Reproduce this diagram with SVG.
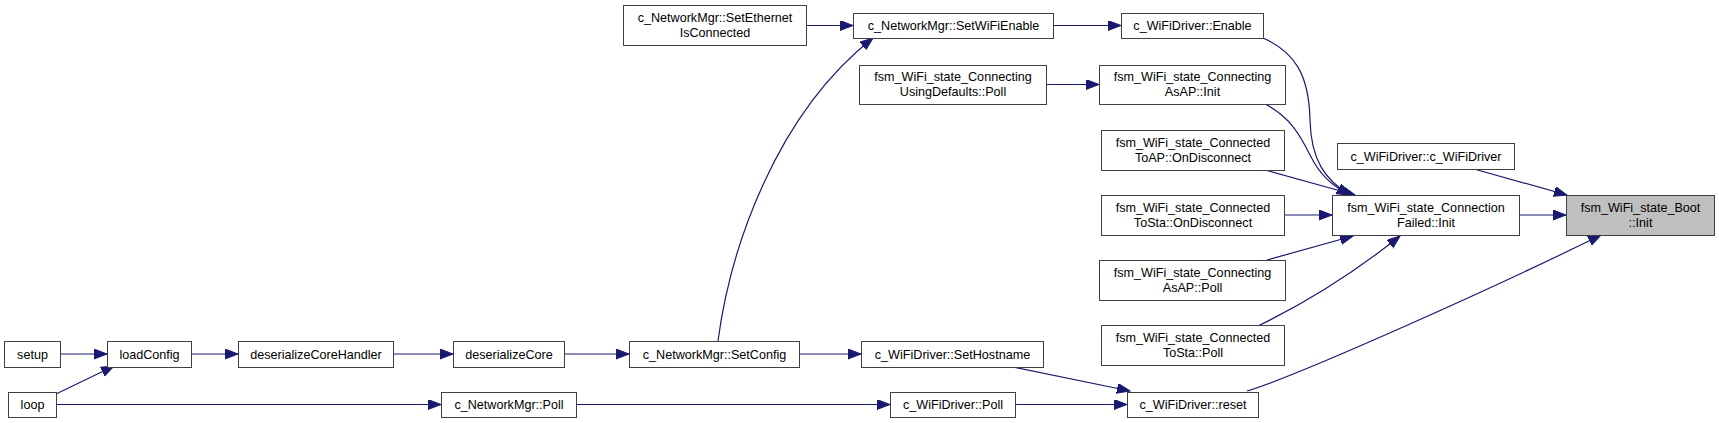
<svg xmlns="http://www.w3.org/2000/svg" width="1719" height="423" viewBox="0 0 1719 423">
<style>
.n rect{fill:#ffffff;stroke:#404040;stroke-width:1}
.n.hl rect{fill:#bfbfbf}
.n text{font-family:"Liberation Sans",Arial,Helvetica,sans-serif;font-size:12.6px;fill:#000;text-anchor:middle}
.e path{fill:none;stroke:#191970;stroke-width:1.2;marker-end:url(#ah)}
</style>
<defs>
<marker id="ah" markerUnits="userSpaceOnUse" markerWidth="14" markerHeight="11" refX="13" refY="5" orient="auto" viewBox="0 0 14 11">
<path d="M0,0 L13,5 L0,10 Z" fill="#191970" stroke="#191970" stroke-width="1"/>
</marker>
</defs>
<rect width="1719" height="423" fill="#ffffff"/>
<g id="connectors" class="e">
<path d="M60,354 L107,354"/>
<path d="M56,394 L114,366"/>
<path d="M56,404.5 L441,404.5"/>
<path d="M191,354 L238,354"/>
<path d="M393,354 L453,354"/>
<path d="M564,354 L629,354"/>
<path d="M799,354 L861,354"/>
<path d="M718,341 C730,250 775,115 873,38"/>
<path d="M806,25.5 L853,25.5"/>
<path d="M1053,25.5 L1121,25.5"/>
<path d="M1046,84.5 L1099,84.5"/>
<path d="M1013,367 L1130,391"/>
<path d="M576,404.5 L890,404.5"/>
<path d="M1015,404.5 L1127,404.5"/>
<path d="M1247,391 C1300,375 1500,285 1601,235"/>
<path d="M1474,169 L1567,195"/>
<path d="M1519,215 L1566,215"/>
<path d="M1284,215 L1332,215"/>
<path d="M1265,170 L1355,195"/>
<path d="M1267,260 L1353,236"/>
<path d="M1258,326 C1295,308 1345,280 1400,236"/>
<path d="M1263,38 C1295,52 1309,75 1310,120 C1311,160 1325,180 1350,195"/>
<path d="M1265,104 C1290,117 1300,135 1310,155 C1320,175 1332,186 1350,195"/>
</g>
<g id="setup" class="n"><rect x="4.5" y="341.5" width="56" height="26"/><text x="32.5" y="358.5">setup</text></g>
<g id="loop" class="n"><rect x="8.5" y="392.5" width="48" height="25"/><text x="32.5" y="409">loop</text></g>
<g id="loadConfig" class="n"><rect x="107.5" y="341.5" width="84" height="26"/><text x="149.5" y="358.5">loadConfig</text></g>
<g id="deserializeCoreHandler" class="n"><rect x="238.5" y="341.5" width="155" height="26"/><text x="316" y="358.5">deserializeCoreHandler</text></g>
<g id="deserializeCore" class="n"><rect x="453.5" y="341.5" width="111" height="26"/><text x="509" y="358.5">deserializeCore</text></g>
<g id="nm_poll" class="n"><rect x="441.5" y="392.5" width="135" height="25"/><text x="509" y="409">c_NetworkMgr::Poll</text></g>
<g id="nm_setconfig" class="n"><rect x="629.5" y="341.5" width="170" height="26"/><text x="714.5" y="358.5">c_NetworkMgr::SetConfig</text></g>
<g id="wd_sethostname" class="n"><rect x="861.5" y="341.5" width="182" height="26"/><text x="952.5" y="358.5">c_WiFiDriver::SetHostname</text></g>
<g id="wd_poll" class="n"><rect x="890.5" y="392.5" width="125" height="25"/><text x="953" y="409">c_WiFiDriver::Poll</text></g>
<g id="wd_reset" class="n"><rect x="1127.5" y="392.5" width="131" height="25"/><text x="1193" y="409">c_WiFiDriver::reset</text></g>
<g id="nm_setethernet" class="n"><rect x="623.5" y="5.5" width="183" height="40"/><text x="715" y="21.5">c_NetworkMgr::SetEthernet</text><text x="715" y="36.5">IsConnected</text></g>
<g id="nm_setwifienable" class="n"><rect x="853.5" y="13.5" width="200" height="25"/><text x="953.5" y="30">c_NetworkMgr::SetWiFiEnable</text></g>
<g id="usingdefaults_poll" class="n"><rect x="859.5" y="65.5" width="187" height="39"/><text x="953" y="81">fsm_WiFi_state_Connecting</text><text x="953" y="96">UsingDefaults::Poll</text></g>
<g id="wd_enable" class="n"><rect x="1121.5" y="13.5" width="142" height="25"/><text x="1192.5" y="30">c_WiFiDriver::Enable</text></g>
<g id="asap_init" class="n"><rect x="1099.5" y="65.5" width="186" height="39"/><text x="1192.5" y="81">fsm_WiFi_state_Connecting</text><text x="1192.5" y="96">AsAP::Init</text></g>
<g id="toap_ondisconnect" class="n"><rect x="1101.5" y="130.5" width="183" height="40"/><text x="1193" y="146.5">fsm_WiFi_state_Connected</text><text x="1193" y="161.5">ToAP::OnDisconnect</text></g>
<g id="tosta_ondisconnect" class="n"><rect x="1101.5" y="195.5" width="183" height="40"/><text x="1193" y="211.5">fsm_WiFi_state_Connected</text><text x="1193" y="226.5">ToSta::OnDisconnect</text></g>
<g id="asap_poll" class="n"><rect x="1099.5" y="260.5" width="186" height="40"/><text x="1192.5" y="276.5">fsm_WiFi_state_Connecting</text><text x="1192.5" y="291.5">AsAP::Poll</text></g>
<g id="tosta_poll" class="n"><rect x="1101.5" y="325.5" width="183" height="40"/><text x="1193" y="341.5">fsm_WiFi_state_Connected</text><text x="1193" y="356.5">ToSta::Poll</text></g>
<g id="wd_ctor" class="n"><rect x="1337.5" y="143.5" width="177" height="26"/><text x="1426" y="160.5">c_WiFiDriver::c_WiFiDriver</text></g>
<g id="connfailed_init" class="n"><rect x="1332.5" y="195.5" width="187" height="40"/><text x="1426" y="211.5">fsm_WiFi_state_Connection</text><text x="1426" y="226.5">Failed::Init</text></g>
<g id="boot_init" class="n hl"><rect x="1566.5" y="195.5" width="148" height="40"/><text x="1640.5" y="211.5">fsm_WiFi_state_Boot</text><text x="1640.5" y="226.5">::Init</text></g>
</svg>
